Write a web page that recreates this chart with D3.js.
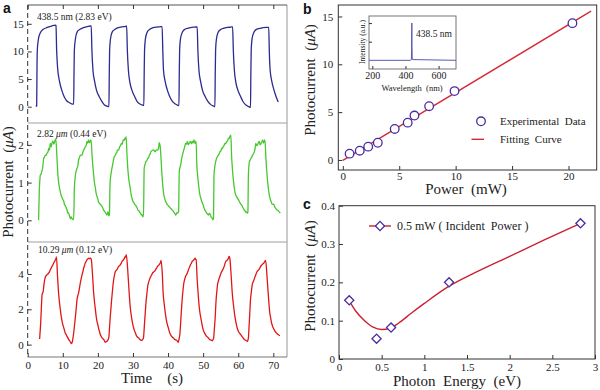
<!DOCTYPE html>
<html><head><meta charset="utf-8">
<script src="https://cdn.jsdelivr.net/npm/d3@7"></script>
<style>
body{margin:0;background:#fff}
text{font-family:"Liberation Serif","DejaVu Serif","Times New Roman",serif;fill:#222;white-space:pre}
.lbl{font-family:"Liberation Sans",Arial,sans-serif;font-weight:bold;font-size:14px;fill:#111}
</style></head>
<body><svg id="chart" width="600" height="390"></svg>
<script>
// ---------- DATA ----------
const timeTicks = [0,10,20,30,40,50,60,70];
const blueTicks = [0,5,10,15];
const greenTicks = [0,1,2];
const redTicks = [0,2,4];
const blueTrace = [[2.27,0.12],[2.56,0.12],[2.65,7.2],[2.74,10.2],[3.0,12.0],[3.5,13.25],[4.45,14.0],[5.4,14.3],[6.8,14.6],[7.9,14.76],[8.06,14.7],[8.25,10.2],[8.5,7.2],[9.0,4.8],[9.7,3.0],[10.4,1.8],[11.1,1.08],[11.9,0.72],[12.5,0.5],[13.1,0.45],
[13.2,6.0],[13.3,10.2],[13.6,12.3],[14.1,13.55],[14.9,14.0],[15.9,14.3],[17.0,14.5],[17.9,14.6],[18.1,14.6],[18.3,10.2],[18.6,6.6],[19.1,4.5],[19.6,3.0],[20.4,1.8],[21.2,0.9],[21.9,0.3],[22.7,0.06],[23.15,0.0],
[23.25,6.0],[23.35,10.2],[23.6,12.3],[24.1,13.55],[24.9,14.0],[25.8,14.3],[26.8,14.45],[27.7,14.5],[28.2,14.6],[28.4,10.2],[28.7,6.6],[29.1,4.5],[29.7,3.0],[30.5,1.8],[31.2,0.9],[32.0,0.48],[32.7,0.3],[33.1,0.24],
[33.2,6.0],[33.3,10.2],[33.55,12.3],[34.1,13.55],[34.8,14.0],[35.8,14.3],[36.8,14.4],[37.7,14.45],[38.3,14.5],[38.5,10.2],[38.7,6.6],[39.2,4.5],[39.8,3.0],[40.5,1.8],[41.3,0.9],[42.1,0.48],[42.8,0.24],[43.1,0.18],
[43.2,6.0],[43.3,10.2],[43.55,12.3],[44.1,13.5],[44.8,14.0],[45.8,14.2],[46.7,14.35],[47.7,14.4],[48.3,14.45],[48.5,10.2],[48.8,6.6],[49.3,4.5],[49.8,3.0],[50.6,1.8],[51.4,0.9],[52.1,0.42],[52.9,0.12],[53.35,0.0],
[53.45,6.0],[53.55,10.2],[53.8,12.3],[54.3,13.5],[55.1,14.0],[56.0,14.2],[57.0,14.35],[57.9,14.4],[58.4,14.45],[58.6,10.2],[58.9,6.6],[59.3,4.5],[59.9,3.0],[60.7,1.8],[61.4,0.9],[62.2,0.3],[63.0,0.0],[63.5,-0.12],
[63.6,6.0],[63.7,10.2],[63.95,12.3],[64.5,13.5],[65.2,14.0],[66.2,14.15],[67.1,14.3],[68.1,14.35],[68.7,14.35],[68.85,10.2],[69.1,6.6],[69.6,4.5],[70.2,3.0],[70.8,1.8],[71.4,0.85]];
const greenTrace = [[3.1,0],[3.3,0.76],[3.45,1.05],[3.6,1.2],[3.8,1.22],[4.0,1.29],[4.3,1.42],[4.55,1.64],[4.8,1.68],[5.0,1.73],[5.3,1.72],[5.5,1.78],[5.8,1.82],[6.0,1.91],[6.2,1.86],[6.45,2.04],[6.7,1.95],[6.95,2.06],[7.2,2.1],[7.45,2.02],[7.7,2.09],[8.0,2.16],[8.35,1.64],[8.6,1.2],[9.0,0.89],[9.25,0.78],[9.5,0.67],[9.8,0.6],[10.1,0.54],[10.3,0.5],[10.5,0.41],[10.8,0.38],[11.0,0.32],[11.2,0.28],[11.4,0.19],[11.6,0.2],[11.9,0.12],[12.2,0.04],[12.4,0.09],[12.6,0.05],[12.9,0.02],
[13.1,0.02],[13.3,0.85],[13.6,1.2],[13.8,1.3],[14.05,1.38],[14.3,1.45],[14.5,1.6],[14.75,1.66],[15.0,1.73],[15.5,1.73],[15.7,1.8],[15.95,1.87],[16.2,1.9],[16.4,1.95],[16.65,1.98],[16.9,2.09],[17.15,2.05],[17.4,2.13],[17.6,2.06],[17.85,2.09],[18.05,2.13],[18.4,1.64],[18.8,1.2],[19.05,0.98],[19.3,0.85],[19.5,0.72],[19.75,0.63],[20.0,0.56],[20.2,0.48],[20.45,0.45],[20.7,0.42],[20.95,0.4],[21.2,0.36],[21.4,0.33],[21.6,0.27],[21.85,0.25],[22.1,0.21],[22.35,0.18],[22.6,0.14],[22.9,0.23],[23.1,0.12],
[23.3,0.14],[23.45,0.94],[23.7,1.2],[23.95,1.35],[24.2,1.47],[24.45,1.6],[24.7,1.69],[24.95,1.72],[25.2,1.78],[25.4,1.8],[25.6,1.87],[25.9,1.86],[26.2,1.95],[26.45,1.98],[26.7,2.04],[26.95,2.02],[27.2,2.13],[27.45,2.12],[27.7,2.18],[27.9,2.15],[28.05,2.22],[28.3,1.73],[28.6,1.29],[28.8,1.1],[29.05,0.94],[29.3,0.8],[29.5,0.67],[29.75,0.58],[30.0,0.5],[30.25,0.47],[30.5,0.42],[30.75,0.4],[31.0,0.36],[31.2,0.33],[31.4,0.27],[31.65,0.26],[31.9,0.21],[32.15,0.19],[32.4,0.14],[32.6,0.15],[32.75,0.1],
[33.0,0.1],[33.2,1.38],[33.45,1.48],[33.7,1.56],[33.95,1.58],[34.2,1.64],[34.45,1.66],[34.7,1.73],[34.9,1.76],[35.1,1.82],[35.5,1.85],[35.9,1.87],[36.15,1.83],[36.4,1.82],[36.6,1.86],[36.8,1.87],[37.05,1.86],[37.3,1.91],[37.45,2.06],[37.75,1.97],[38.0,1.64],[38.2,1.3],[38.4,1.03],[38.6,0.82],[38.8,0.67],[39.05,0.58],[39.3,0.5],[39.55,0.46],[39.8,0.41],[40.05,0.39],[40.3,0.36],[40.5,0.35],[40.7,0.32],[40.95,0.3],[41.2,0.27],[41.45,0.25],[41.7,0.21],[41.95,0.18],[42.2,0.14],[42.4,0.17],[42.6,0.21],[42.85,0.2],
[43.0,0.23],[43.2,1.29],[43.4,1.4],[43.6,1.47],[43.85,1.62],[44.1,1.73],[44.3,1.8],[44.5,1.87],[44.75,1.95],[45.0,2.04],[45.25,2.02],[45.5,2.09],[45.75,2.0],[46.0,2.04],[46.2,2.07],[46.4,2.09],[46.65,2.03],[46.9,2.09],[47.15,2.05],[47.4,2.13],[47.7,2.04],[48.0,2.09],[48.2,1.47],[48.4,1.22],[48.6,1.03],[48.85,0.82],[49.1,0.67],[49.35,0.58],[49.6,0.5],[49.8,0.46],[50.0,0.41],[50.25,0.33],[50.5,0.27],[50.75,0.24],[51.0,0.19],[51.25,0.17],[51.5,0.14],[51.75,0.18],[52.0,0.16],[52.2,0.1],[52.4,0.07],[52.6,0.06],[52.8,0.01],
[52.95,0.05],[53.1,1.2],[53.25,1.36],[53.4,1.47],[53.6,1.56],[53.8,1.64],[54.05,1.68],[54.3,1.73],[54.55,1.76],[54.8,1.82],[55.05,1.84],[55.3,1.91],[55.5,1.9],[55.7,1.95],[55.95,1.98],[56.2,2.04],[56.45,2.03],[56.7,2.09],[56.95,2.1],[57.2,2.18],[57.4,2.16],[57.6,2.22],[57.9,2.26],[58.1,1.73],[58.4,1.29],[58.65,1.04],[58.9,0.85],[59.1,0.74],[59.3,0.67],[59.55,0.63],[59.8,0.58],[60.05,0.55],[60.3,0.5],[60.55,0.46],[60.8,0.42],[61.0,0.4],[61.2,0.36],[61.45,0.32],[61.7,0.27],[61.95,0.25],[62.2,0.21],[62.4,0.22],[62.6,0.19],
[62.75,0.21],[62.9,1.2],[63.05,1.45],[63.2,1.56],[63.4,1.6],[63.6,1.64],[63.85,1.67],[64.1,1.73],[64.35,1.76],[64.6,1.82],[64.8,1.9],[65.0,2.04],[65.25,1.98],[65.5,2.0],[65.75,2.06],[66.0,2.09],[66.25,2.0],[66.5,2.04],[66.75,2.08],[67.0,2.13],[67.2,2.05],[67.4,2.09],[67.6,2.13],[67.9,1.64],[68.1,1.34],[68.3,1.11],[68.5,0.92],[68.7,0.76],[68.95,0.63],[69.2,0.54],[69.45,0.48],[69.7,0.42],[69.95,0.43],[70.2,0.41],[70.4,0.36],[70.6,0.32],[70.85,0.3],[71.1,0.27],[71.35,0.26],[71.6,0.23],[71.8,0.21],[72.0,0.19]];
const redTrace = [[3.4,0.32],[3.7,1.23],[3.9,2.1],[4.1,2.83],[4.4,3.0],[4.7,3.5],[4.9,3.72],[5.1,3.87],[5.3,3.9],[5.5,3.96],[5.75,4.0],[6.0,4.06],[6.2,4.12],[6.45,4.25],[6.7,4.33],[6.9,4.43],[7.15,4.5],[7.4,4.62],[7.65,4.7],[7.9,4.81],[8.05,4.86],[8.2,4.96],[8.5,3.87],[8.8,2.92],[9.05,2.4],[9.3,1.98],[9.55,1.6],[9.8,1.32],[10.05,1.1],[10.3,0.94],[10.5,0.8],[10.7,0.66],[10.95,0.57],[11.2,0.47],[11.45,0.38],[11.7,0.28],[11.95,0.22],[12.2,0.13],[12.4,0.06],[12.6,0.09],
[12.85,0.3],[13.1,0.66],[13.35,1.1],[13.6,1.6],[13.85,2.1],[14.05,2.55],[14.25,2.75],[14.5,2.92],[14.75,3.2],[15.0,3.49],[15.25,3.75],[15.5,3.96],[15.75,4.15],[15.95,4.34],[16.2,4.48],[16.4,4.62],[16.65,4.7],[16.9,4.81],[17.15,4.86],[17.4,4.9],[17.6,4.86],[17.85,4.9],[18.1,4.85],[18.5,3.87],[18.8,2.92],[19.05,2.4],[19.3,1.98],[19.5,1.62],[19.75,1.32],[20.0,1.12],[20.2,0.94],[20.45,0.75],[20.7,0.57],[20.95,0.46],[21.2,0.38],[21.45,0.33],[21.7,0.28],[21.9,0.2],[22.1,0.13],[22.35,0.16],[22.6,0.19],[22.9,0.28],
[23.1,0.38],[23.35,1.04],[23.5,1.5],[23.7,1.98],[23.9,2.5],[24.1,2.92],[24.3,3.35],[24.5,3.68],[24.75,3.95],[25.0,4.15],[25.2,4.2],[25.4,4.25],[25.65,4.32],[25.9,4.43],[26.15,4.46],[26.4,4.53],[26.65,4.6],[26.9,4.72],[27.1,4.75],[27.3,4.81],[27.55,4.88],[27.8,5.0],[27.95,4.96],[28.1,5.09],[28.5,4.25],[28.8,3.3],[29.0,2.7],[29.2,2.17],[29.45,1.75],[29.7,1.42],[29.95,1.15],[30.2,0.94],[30.45,0.78],[30.7,0.66],[30.9,0.55],[31.1,0.47],[31.35,0.42],[31.6,0.38],[31.85,0.32],[32.1,0.28],[32.35,0.24],[32.6,0.25],[32.85,0.32],
[33.0,0.38],[33.15,0.75],[33.3,1.23],[33.5,1.8],[33.7,2.36],[33.95,2.85],[34.2,3.3],[34.45,3.52],[34.7,3.68],[34.9,3.78],[35.1,3.87],[35.35,3.95],[35.6,4.06],[35.85,4.1],[36.1,4.15],[36.35,4.2],[36.6,4.3],[36.8,4.35],[37.0,4.43],[37.25,4.48],[37.5,4.53],[37.65,4.58],[37.8,4.62],[38.0,4.77],[38.4,3.87],[38.6,2.92],[38.85,2.4],[39.1,1.98],[39.35,1.6],[39.6,1.32],[39.85,1.1],[40.1,0.94],[40.3,0.78],[40.5,0.66],[40.75,0.55],[41.0,0.47],[41.25,0.42],[41.5,0.38],[41.75,0.32],[42.0,0.28],[42.2,0.27],[42.4,0.25],[42.65,0.2],[42.9,0.13],[43.1,0.28],
[43.4,0.66],[43.55,1.1],[43.7,1.6],[43.9,2.2],[44.1,2.74],[44.3,3.15],[44.5,3.49],[44.75,3.7],[45.0,3.87],[45.25,3.95],[45.5,4.06],[45.75,4.2],[46.0,4.34],[46.2,4.42],[46.4,4.53],[46.65,4.6],[46.9,4.72],[47.15,4.75],[47.4,4.81],[47.55,4.85],[47.7,4.9],[47.85,4.83],[48.0,4.81],[48.3,3.68],[48.5,3.1],[48.7,2.55],[48.9,2.1],[49.1,1.79],[49.35,1.5],[49.6,1.23],[49.8,1.02],[50.0,0.85],[50.25,0.72],[50.5,0.62],[50.75,0.54],[51.0,0.47],[51.25,0.43],[51.5,0.38],[51.7,0.32],[51.9,0.28],[52.15,0.27],[52.4,0.25],[52.6,0.22],[52.8,0.28],
[53.0,0.38],[53.2,0.9],[53.4,1.42],[53.55,2.0],[53.7,2.55],[53.9,3.0],[54.1,3.4],[54.35,3.6],[54.6,3.77],[54.85,3.9],[55.1,4.06],[55.35,4.15],[55.6,4.25],[55.8,4.33],[56.0,4.43],[56.25,4.6],[56.5,4.72],[56.75,4.76],[57.0,4.81],[57.2,4.9],[57.4,5.0],[57.6,4.9],[58.0,3.87],[58.3,2.92],[58.55,2.4],[58.8,1.98],[59.05,1.6],[59.3,1.32],[59.5,1.12],[59.7,0.94],[59.95,0.8],[60.2,0.7],[60.45,0.63],[60.7,0.57],[60.95,0.5],[61.2,0.43],[61.4,0.38],[61.6,0.32],[61.85,0.28],[62.1,0.25],[62.35,0.22],[62.6,0.19],
[62.9,0.38],[63.05,0.9],[63.2,1.42],[63.35,2.0],[63.5,2.55],[63.75,3.0],[64.0,3.4],[64.25,3.55],[64.5,3.68],[64.75,3.82],[65.0,3.96],[65.2,4.05],[65.4,4.15],[65.65,4.2],[65.9,4.25],[66.15,4.34],[66.4,4.43],[66.6,4.48],[66.8,4.53],[67.05,4.58],[67.3,4.62],[67.55,4.7],[67.8,4.77],[68.2,3.87],[68.4,3.3],[68.6,2.74],[68.8,2.2],[69.0,1.79],[69.25,1.5],[69.5,1.23],[69.75,1.06],[70.0,0.94],[70.25,0.84],[70.5,0.75],[70.7,0.7],[70.9,0.66],[71.15,0.6],[71.4,0.57],[71.65,0.53],[71.9,0.51]];
const labelsA = ["438.5 nm (2.83 eV)", "2.82 ", "μm", " (0.44 eV)", "10.29 ", "μm", " (0.12 eV)"];

const powerTicks = [0,5,10,15,20];
const photoTicksB = [0,5,10,15];
const powerVals = [0.6,1.5,2.25,3.1,4.6,5.75,6.35,7.65,9.9,20.35];
const photoVals = [0.66,0.97,1.39,1.8,3.24,3.9,4.64,5.62,7.2,14.3];
const fitPower = [0,22];
const fitPhoto = [-0.05,15.55];
const insetTicks = [200,400,600];
const insetYTicks = [0.5,1];
const wavelength = [180,430,436,437.5,438.5,439.5,441,705];
const intensity = [0,0,0.02,0.6,1,0.35,0.02,0];

const energyTicks = [0,0.5,1,1.5,2,2.5,3];
const photoTicksC = [0,0.1,0.2,0.3,0.4];
const energyVals = [0.12,0.44,0.61,1.29,2.83];
const photoC = [0.153,0.053,0.082,0.2,0.354];
const fitEnergy = [0.12,0.2,0.3,0.4,0.5,0.6,0.7,0.85,1.0,1.29,1.6,2.0,2.4,2.83];
const fitPhotoC = [0.152,0.124,0.1,0.083,0.077,0.08,0.094,0.12,0.145,0.19,0.226,0.268,0.31,0.354];

// ---------- DRAW ----------
const svg = d3.select("#chart");
const FS = "11px";
const fmt = d => String(d);
function styleAxis(g, fs){
  g.attr("font-family", null).attr("font-size", null);
  g.select(".domain").remove();
  g.selectAll("line").attr("stroke","#333");
  g.selectAll("text").style("font-size", fs || FS).attr("fill","#222");
}

// Panel a
const xA = d3.scaleLinear([0,73.9],[27.7,287]);
const yBlue = d3.scaleLinear([-2.95,18.4],[123,5]);
const yGreen = d3.scaleLinear([-0.575,2.58],[242,123]);
const yRed = d3.scaleLinear([-0.7,5.81],[357,242]);

svg.append("line").attr("x1",27.7).attr("x2",287).attr("y1",123).attr("y2",123).attr("stroke","#cfcfcf").attr("stroke-width",2);
svg.append("line").attr("x1",27.7).attr("x2",287).attr("y1",242).attr("y2",242).attr("stroke","#cfcfcf").attr("stroke-width",2);
svg.append("line").attr("x1",287).attr("x2",287).attr("y1",5).attr("y2",357).attr("stroke","#a8a8a8").attr("stroke-width",1.2);
svg.append("line").attr("x1",27.7).attr("x2",287).attr("y1",5).attr("y2",5).attr("stroke","#555").attr("stroke-width",1.2);
svg.append("line").attr("x1",27.7).attr("x2",287).attr("y1",357).attr("y2",357).attr("stroke","#777").attr("stroke-width",1.2);
svg.append("line").attr("x1",27.7).attr("x2",27.7).attr("y1",5).attr("y2",357).attr("stroke","#333").attr("stroke-width",1).attr("stroke-dasharray","5,3");

svg.append("g").attr("transform","translate(0,5)").call(d3.axisTop(xA).tickValues(timeTicks).tickSize(-4).tickFormat("")).call(g=>styleAxis(g));
svg.append("g").attr("transform","translate(0,357)").call(d3.axisBottom(xA).tickValues(timeTicks).tickSize(-4).tickPadding(4).tickFormat(fmt)).call(g=>styleAxis(g));
svg.append("g").attr("transform","translate(27.7,0)").call(d3.axisLeft(yBlue).tickValues(blueTicks).tickSize(-4).tickPadding(4).tickFormat(fmt)).call(g=>styleAxis(g));
svg.append("g").attr("transform","translate(27.7,0)").call(d3.axisLeft(yGreen).tickValues(greenTicks).tickSize(-4).tickPadding(4).tickFormat(fmt)).call(g=>styleAxis(g));
svg.append("g").attr("transform","translate(27.7,0)").call(d3.axisLeft(yRed).tickValues(redTicks).tickSize(-4).tickPadding(4).tickFormat(fmt)).call(g=>styleAxis(g));

function trace(data, y, color){
  svg.append("path").datum(data)
    .attr("d", d3.line().x(d=>xA(d[0])).y(d=>y(d[1])).curve(d3.curveMonotoneX))
    .attr("fill","none").attr("stroke",color).attr("stroke-width",1.3).attr("stroke-linejoin","round");
}
trace(blueTrace, yBlue, "#2d2a90");
trace(greenTrace, yGreen, "#46c82e");
trace(redTrace, yRed, "#e01616");

svg.append("text").attr("x",37).attr("y",20).style("font-size","9.5px").text(labelsA[0]);
const tg = svg.append("text").attr("x",37).attr("y",137).style("font-size","9.5px");
tg.append("tspan").text(labelsA[1]); tg.append("tspan").style("font-style","italic").text(labelsA[2]); tg.append("tspan").text(labelsA[3]);
const tr = svg.append("text").attr("x",38).attr("y",253).style("font-size","9.5px");
tr.append("tspan").text(labelsA[4]); tr.append("tspan").style("font-style","italic").text(labelsA[5]); tr.append("tspan").text(labelsA[6]);

function yTitle(x, y){
  const t = svg.append("text").attr("transform",`translate(${x},${y}) rotate(-90)`).attr("text-anchor","middle").style("font-size","15px");
  t.append("tspan").text("Photocurrent  (");
  t.append("tspan").style("font-style","italic").text("μA");
  t.append("tspan").text(")");
}
yTitle(13, 182);
svg.append("text").attr("x",152).attr("y",383).attr("text-anchor","middle").style("font-size","15px").text("Time    (s)");
svg.append("text").attr("class","lbl").attr("x",3).attr("y",13).text("a");

// Panel b
const xB = d3.scaleLinear([-0.4,22.5],[338.3,596.7]);
const yB = d3.scaleLinear([-1.05,16.2],[170,5]);
svg.append("rect").attr("x",338.3).attr("y",5).attr("width",596.7-338.3).attr("height",165).attr("fill","none").attr("stroke","#333").attr("stroke-width",1);
svg.append("g").attr("transform","translate(0,170)").call(d3.axisBottom(xB).tickValues(powerTicks).tickSize(-4).tickPadding(2).tickFormat(fmt)).call(g=>styleAxis(g));
svg.append("g").attr("transform","translate(338.3,0)").call(d3.axisLeft(yB).tickValues(photoTicksB).tickSize(-4).tickPadding(5).tickFormat(fmt)).call(g=>styleAxis(g));
svg.append("path").datum(fitPower.map((p,i)=>[p,fitPhoto[i]]))
  .attr("d", d3.line().x(d=>xB(d[0])).y(d=>yB(d[1]))).attr("stroke","#d42a35").attr("stroke-width",1.4).attr("fill","none");
svg.selectAll(".pt").data(powerVals.map((p,i)=>[p,photoVals[i]])).join("circle")
  .attr("cx",d=>xB(d[0])).attr("cy",d=>yB(d[1])).attr("r",4.3).attr("fill","#fff").attr("stroke","#4a2ca0").attr("stroke-width",1.3);

// inset
const xI = d3.scaleLinear([180,705],[369,456]);
const yI = d3.scaleLinear([-0.233,1.19],[69,16]);
svg.append("rect").attr("x",369).attr("y",16).attr("width",87).attr("height",53).attr("fill","#fff").attr("stroke","#666").attr("stroke-width",0.9);
svg.append("g").attr("transform","translate(0,69)").call(d3.axisBottom(xI).tickValues(insetTicks).tickSize(-3).tickPadding(3).tickFormat(fmt)).call(g=>styleAxis(g,"10px"));
svg.append("g").attr("transform","translate(369,0)").call(d3.axisLeft(yI).tickValues(insetYTicks).tickSize(-3).tickFormat("")).call(g=>styleAxis(g));
svg.append("path").datum(wavelength.map((w,i)=>[w,intensity[i]]))
  .attr("d", d3.line().x(d=>xI(d[0])).y(d=>yI(d[1]))).attr("stroke","#5a5ab0").attr("stroke-width",1).attr("fill","none");
svg.append("text").attr("x",416).attr("y",37).style("font-size","9.5px").text("438.5 nm");
svg.append("text").attr("x",412).attr("y",91).attr("text-anchor","middle").style("font-size","8.5px").text("Wavelength  (nm)");
svg.append("text").attr("transform","translate(365,42) rotate(-90)").attr("text-anchor","middle").style("font-size","7.5px").text("Intensity (a.u.)");

// legend b
svg.append("circle").attr("cx",481).attr("cy",121.3).attr("r",4.3).attr("fill","#fff").attr("stroke","#4a2ca0").attr("stroke-width",1.3);
svg.append("text").attr("x",500).attr("y",125).style("font-size","11px").text("Experimental  Data");
svg.append("line").attr("x1",471.5).attr("x2",484).attr("y1",139.3).attr("y2",139.3).attr("stroke","#d42a35").attr("stroke-width",1.4);
svg.append("text").attr("x",500).attr("y",143).style("font-size","11px").text("Fitting  Curve");
yTitle(315, 80);
svg.append("text").attr("x",466).attr("y",194).attr("text-anchor","middle").style("font-size","15px").text("Power  (mW)");
svg.append("text").attr("class","lbl").attr("x",303).attr("y",14).text("b");

// Panel c
const xC = d3.scaleLinear([0,3],[339,595]);
const yC = d3.scaleLinear([0,0.4],[359,205.7]);
svg.append("rect").attr("x",339).attr("y",205.7).attr("width",256).attr("height",359-205.7).attr("fill","none").attr("stroke","#333").attr("stroke-width",1);
svg.append("g").attr("transform","translate(0,359)").call(d3.axisBottom(xC).tickValues(energyTicks).tickSize(-4).tickPadding(4).tickFormat(fmt)).call(g=>styleAxis(g));
svg.append("g").attr("transform","translate(339,0)").call(d3.axisLeft(yC).tickValues(photoTicksC).tickSize(-4).tickPadding(4).tickFormat(fmt)).call(g=>styleAxis(g));
svg.append("path").datum(fitEnergy.map((e,i)=>[e,fitPhotoC[i]]))
  .attr("d", d3.line().x(d=>xC(d[0])).y(d=>yC(d[1])).curve(d3.curveMonotoneX)).attr("stroke","#cc2030").attr("stroke-width",1.4).attr("fill","none");
const diamond = d3.symbol().type(d3.symbolSquare).size(42);
svg.selectAll(".dm").data(energyVals.map((e,i)=>[e,photoC[i]])).join("path")
  .attr("d",diamond).attr("transform",d=>`translate(${xC(d[0])},${yC(d[1])}) rotate(45)`)
  .attr("fill","#fff").attr("stroke","#4a2ca0").attr("stroke-width",1.3);
svg.append("line").attr("x1",369).attr("x2",391).attr("y1",226).attr("y2",226).attr("stroke","#cc2030").attr("stroke-width",1.4);
svg.append("path").attr("d",diamond).attr("transform","translate(380,226) rotate(45)").attr("fill","#fff").attr("stroke","#4a2ca0").attr("stroke-width",1.3);
svg.append("text").attr("x",397).attr("y",230).style("font-size","12px").text("0.5 mW ( Incident  Power )");
yTitle(315, 276);
svg.append("text").attr("x",457).attr("y",386).attr("text-anchor","middle").style("font-size","15px").text("Photon  Energy  (eV)");
svg.append("text").attr("class","lbl").attr("x",303).attr("y",209).text("c");
</script>
</body></html>
